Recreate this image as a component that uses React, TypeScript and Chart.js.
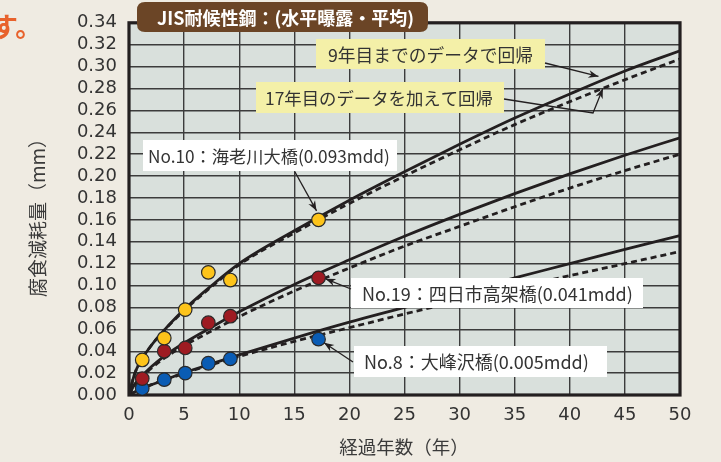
import React, { useEffect, useRef } from "react";
import { Chart, registerables } from "chart.js";

Chart.register(...registerables);

// ---------- data ----------
const pointYears = [1.2, 3.2, 5.1, 7.2, 9.2, 17.2];
const no10Values = [0.032, 0.052, 0.078, 0.112, 0.105, 0.16];
const no19Values = [0.015, 0.04, 0.043, 0.066, 0.072, 0.107];
const no8Values = [0.006, 0.014, 0.02, 0.029, 0.033, 0.051];

const curveYears = [0, 0.5, 1, 2, 3, 5, 7.5, 10, 15, 20, 25, 30, 35, 40, 45, 50];
const no10Fit9 = [0, 0.019, 0.03, 0.045, 0.057, 0.078, 0.1, 0.12, 0.15, 0.178, 0.204, 0.229, 0.253, 0.275, 0.296, 0.3145];
const no10Fit17 = [0, 0.019, 0.03, 0.045, 0.057, 0.077, 0.099, 0.119, 0.148, 0.175, 0.2, 0.224, 0.247, 0.268, 0.288, 0.307];
const no19Fit9 = [0, 0.0095, 0.0155, 0.0255, 0.034, 0.0475, 0.062, 0.076, 0.101, 0.1235, 0.145, 0.165, 0.184, 0.202, 0.219, 0.235];
const no19Fit17 = [0, 0.009, 0.0147, 0.0242, 0.0322, 0.045, 0.0585, 0.0715, 0.095, 0.116, 0.136, 0.154, 0.172, 0.189, 0.205, 0.22];
const no8Fit9 = [0, 0.0028, 0.0051, 0.0093, 0.013, 0.0203, 0.0286, 0.0367, 0.052, 0.0665, 0.08, 0.094, 0.107, 0.12, 0.133, 0.1457];
const no8Fit17 = [0, 0.0027, 0.005, 0.0092, 0.0128, 0.0198, 0.0277, 0.0352, 0.049, 0.0615, 0.074, 0.086, 0.098, 0.109, 0.12, 0.131];

const xTicks = [0, 5, 10, 15, 20, 25, 30, 35, 40, 45, 50];
const yTicks = [0, 0.02, 0.04, 0.06, 0.08, 0.1, 0.12, 0.14, 0.16, 0.18, 0.2, 0.22, 0.24, 0.26, 0.28, 0.3, 0.32, 0.34];

const titleText = "JIS耐候性鋼：(水平曝露・平均)";
const xTitle = "経過年数（年）";
const yTitle = "腐食減耗量（mm）";
const fit9Label = "9年目までのデータで回帰";
const fit17Label = "17年目のデータを加えて回帰";
const no10Label = "No.10：海老川大橋(0.093mdd)";
const no19Label = "No.19：四日市高架橋(0.041mdd)";
const no8Label = "No.8：大峰沢橋(0.005mdd)";
const cornerText = "す。";

// ---------- styles ----------
const PAGE_BG = "#efebe2";
const PLOT_BG = "#d9e0dc";
const INK = "#231f20";
const GRID = "#3c3c3c";
const YELLOW = "#fdc41a";
const RED = "#9e1b22";
const BLUE = "#0a5cb4";
const BROWN = "#6b4526";
const NOTE_YELLOW = "#f4f0a8";
const JP = '"Noto Sans CJK JP", "Noto Sans CJK SC", sans-serif';
const NUM = '"DejaVu Sans", sans-serif';

const pts = (xs: number[], ys: number[]) => xs.map((x, i) => ({ x, y: ys[i] }));

function setFitFont(ctx: CanvasRenderingContext2D, text: string, weight: string, maxSize: number, targetW: number) {
  ctx.font = `${weight} 100px ${JP}`;
  const w = ctx.measureText(text).width;
  const size = Math.min(maxSize, (100 * targetW) / w);
  ctx.font = `${weight} ${size.toFixed(2)}px ${JP}`;
}

function drawArrow(ctx: CanvasRenderingContext2D, path: [number, number][]) {
  ctx.save();
  ctx.strokeStyle = INK;
  ctx.fillStyle = INK;
  ctx.lineWidth = 1.3;
  ctx.beginPath();
  ctx.moveTo(path[0][0], path[0][1]);
  for (let i = 1; i < path.length; i++) ctx.lineTo(path[i][0], path[i][1]);
  ctx.stroke();
  const [x1, y1] = path[path.length - 2];
  const [x2, y2] = path[path.length - 1];
  const a = Math.atan2(y2 - y1, x2 - x1);
  const L = 10, W = 3.8;
  ctx.beginPath();
  ctx.moveTo(x2, y2);
  ctx.lineTo(x2 - L * Math.cos(a) + W * Math.sin(a), y2 - L * Math.sin(a) - W * Math.cos(a));
  ctx.lineTo(x2 - 0.7 * L * Math.cos(a), y2 - 0.7 * L * Math.sin(a));
  ctx.lineTo(x2 - L * Math.cos(a) - W * Math.sin(a), y2 - L * Math.sin(a) + W * Math.cos(a));
  ctx.closePath();
  ctx.fill();
  ctx.restore();
}

function roundRect(ctx: CanvasRenderingContext2D, x: number, y: number, w: number, h: number, r: number) {
  ctx.beginPath();
  ctx.moveTo(x + r, y);
  ctx.lineTo(x + w - r, y);
  ctx.quadraticCurveTo(x + w, y, x + w, y + r);
  ctx.lineTo(x + w, y + h - r);
  ctx.quadraticCurveTo(x + w, y + h, x + w - r, y + h);
  ctx.lineTo(x + r, y + h);
  ctx.quadraticCurveTo(x, y + h, x, y + h - r);
  ctx.lineTo(x, y + r);
  ctx.quadraticCurveTo(x, y, x + r, y);
  ctx.closePath();
}

type Note = { text: string; box: [number, number, number, number]; tx: [number, number]; bg: string; max: number };
const notes: Note[] = [
  { text: fit9Label, box: [316, 39, 545, 69], tx: [328, 533], bg: NOTE_YELLOW, max: 19.5 },
  { text: fit17Label, box: [256, 82, 504, 113], tx: [265, 493], bg: NOTE_YELLOW, max: 19.5 },
  { text: no10Label, box: [143, 140, 397, 171], tx: [148, 390], bg: "#ffffff", max: 18 },
  { text: no19Label, box: [351, 278, 643, 308], tx: [362, 635], bg: "#ffffff", max: 18 },
  { text: no8Label, box: [354, 346, 607, 377], tx: [364, 597], bg: "#ffffff", max: 18 },
];

const decor = {
  id: "decor",
  beforeDraw(chart: any) {
    const { ctx, chartArea: a } = chart;
    ctx.save();
    ctx.fillStyle = PAGE_BG;
    ctx.fillRect(0, 0, chart.width, chart.height);
    ctx.fillStyle = PLOT_BG;
    ctx.fillRect(a.left, a.top, a.right - a.left, a.bottom - a.top);
    ctx.restore();
  },
  beforeDatasetsDraw(chart: any) {
    const { ctx, chartArea: a } = chart;
    ctx.save();
    ctx.strokeStyle = INK;
    ctx.lineWidth = 3.2;
    ctx.strokeRect(a.left, a.top, a.right - a.left, a.bottom - a.top);
    ctx.restore();
  },
  afterDatasetsDraw(chart: any) {
    const { ctx } = chart;
    const xs = chart.scales.x, ys = chart.scales.y;
    ctx.save();

    // title box
    ctx.fillStyle = BROWN;
    roundRect(ctx, 137, 2, 291, 30, 8);
    ctx.fill();
    ctx.fillStyle = "#ffffff";
    ctx.textBaseline = "middle";
    ctx.textAlign = "left";
    setFitFont(ctx, titleText, "bold", 18, 261);
    ctx.fillText(titleText, 157, 18);

    // note boxes
    for (const n of notes) {
      const [x0, y0, x1, y1] = n.box;
      ctx.fillStyle = n.bg;
      ctx.fillRect(x0, y0, x1 - x0, y1 - y0);
      ctx.fillStyle = "#333333";
      setFitFont(ctx, n.text, "normal", n.max, n.tx[1] - n.tx[0]);
      ctx.fillText(n.text, n.tx[0], (y0 + y1) / 2 + 1);
    }

    // arrows
    const px = (x: number) => xs.getPixelForValue(x);
    const py = (y: number) => ys.getPixelForValue(y);
    const last = pointYears.length - 1;
    drawArrow(ctx, [[545, 63], [px(42.6), py(0.291)]]);
    drawArrow(ctx, [[504, 99], [593, 113], [px(43.0), py(0.280)]]);
    drawArrow(ctx, [[295, 172], [px(pointYears[last]) - 2, py(no10Values[last]) - 9]]);
    drawArrow(ctx, [[351, 289], [px(pointYears[last]) + 7, py(no19Values[last]) + 1]]);
    drawArrow(ctx, [[353, 362], [px(pointYears[last]) + 5.5, py(no8Values[last]) + 3.5]]);

    // axis titles
    ctx.fillStyle = "#3a3a3a";
    ctx.textAlign = "center";
    ctx.font = `normal 18.5px ${JP}`;
    ctx.fillText(xTitle, 404, 447);
    ctx.save();
    ctx.translate(38, 213);
    ctx.rotate(-Math.PI / 2);
    ctx.font = `normal 19px ${JP}`;
    ctx.fillText(yTitle, 0, 0);
    ctx.restore();

    // cut-off body text at the corner
    ctx.fillStyle = "#e8622c";
    ctx.textAlign = "left";
    ctx.font = `bold 27px ${JP}`;
    ctx.fillText(cornerText, -9, 27);

    ctx.restore();
  },
};

export default function App() {
  const ref = useRef<HTMLCanvasElement>(null);
  useEffect(() => {
    const canvas = ref.current;
    if (!canvas) return;
    const pointSet = (label: string, ys: number[], color: string) => ({
      label,
      data: pts(pointYears, ys),
      showLine: false,
      pointRadius: 6.8,
      pointBackgroundColor: color,
      pointBorderColor: "#2a2a2a",
      pointBorderWidth: 1.2,
      order: 0,
    });
    const lineSet = (label: string, ys: number[], dashed: boolean) => ({
      label,
      data: pts(curveYears, ys),
      showLine: true,
      borderColor: INK,
      borderWidth: 2.8,
      borderDash: dashed ? [6, 4] : [],
      pointRadius: 0,
      tension: 0.4,
      cubicInterpolationMode: "monotone",
      order: 1,
    });
    const chart = new Chart(canvas, {
      type: "scatter",
      data: {
        datasets: [
          pointSet("No.10", no10Values, YELLOW),
          pointSet("No.19", no19Values, RED),
          pointSet("No.8", no8Values, BLUE),
          lineSet("No.10 9y", no10Fit9, false),
          lineSet("No.10 17y", no10Fit17, true),
          lineSet("No.19 9y", no19Fit9, false),
          lineSet("No.19 17y", no19Fit17, true),
          lineSet("No.8 9y", no8Fit9, false),
          lineSet("No.8 17y", no8Fit17, true),
        ] as any,
      },
      options: {
        responsive: false,
        animation: false,
        events: [],
        layout: { padding: { left: 0, right: 41, top: 20, bottom: 0 } },
        plugins: { legend: { display: false }, tooltip: { enabled: false }, title: { display: false } },
        scales: {
          x: {
            type: "linear",
            min: 0,
            max: 50,
            afterBuildTicks: (s: any) => {
              s.ticks = xTicks.map((v) => ({ value: v }));
            },
            afterFit: (s: any) => {
              s.height = 67;
            },
            grid: { color: GRID, lineWidth: 1.4, drawTicks: false },
            border: { display: false },
            ticks: {
              autoSkip: false,
              maxRotation: 0,
              padding: 10,
              color: "#333333",
              font: { family: NUM, size: 18 },
              callback: (v: any) => String(v),
            },
          },
          y: {
            type: "linear",
            min: 0,
            max: 0.34,
            afterBuildTicks: (s: any) => {
              s.ticks = yTicks.map((v) => ({ value: v }));
            },
            afterFit: (s: any) => {
              s.width = 129;
            },
            grid: { color: GRID, lineWidth: 1.4, drawTicks: false },
            border: { display: false },
            ticks: {
              autoSkip: false,
              padding: 12,
              color: "#333333",
              font: { family: NUM, size: 18 },
              callback: (v: any) => Number(v).toFixed(2),
            },
          },
        },
      } as any,
      plugins: [decor],
    });
    return () => chart.destroy();
  }, []);
  return (
    <div style={{ position: "absolute", left: 0, top: 0, width: 721, height: 462, background: PAGE_BG }}>
      <canvas ref={ref} width={721} height={462} style={{ display: "block", width: 721, height: 462 }} />
    </div>
  );
}
